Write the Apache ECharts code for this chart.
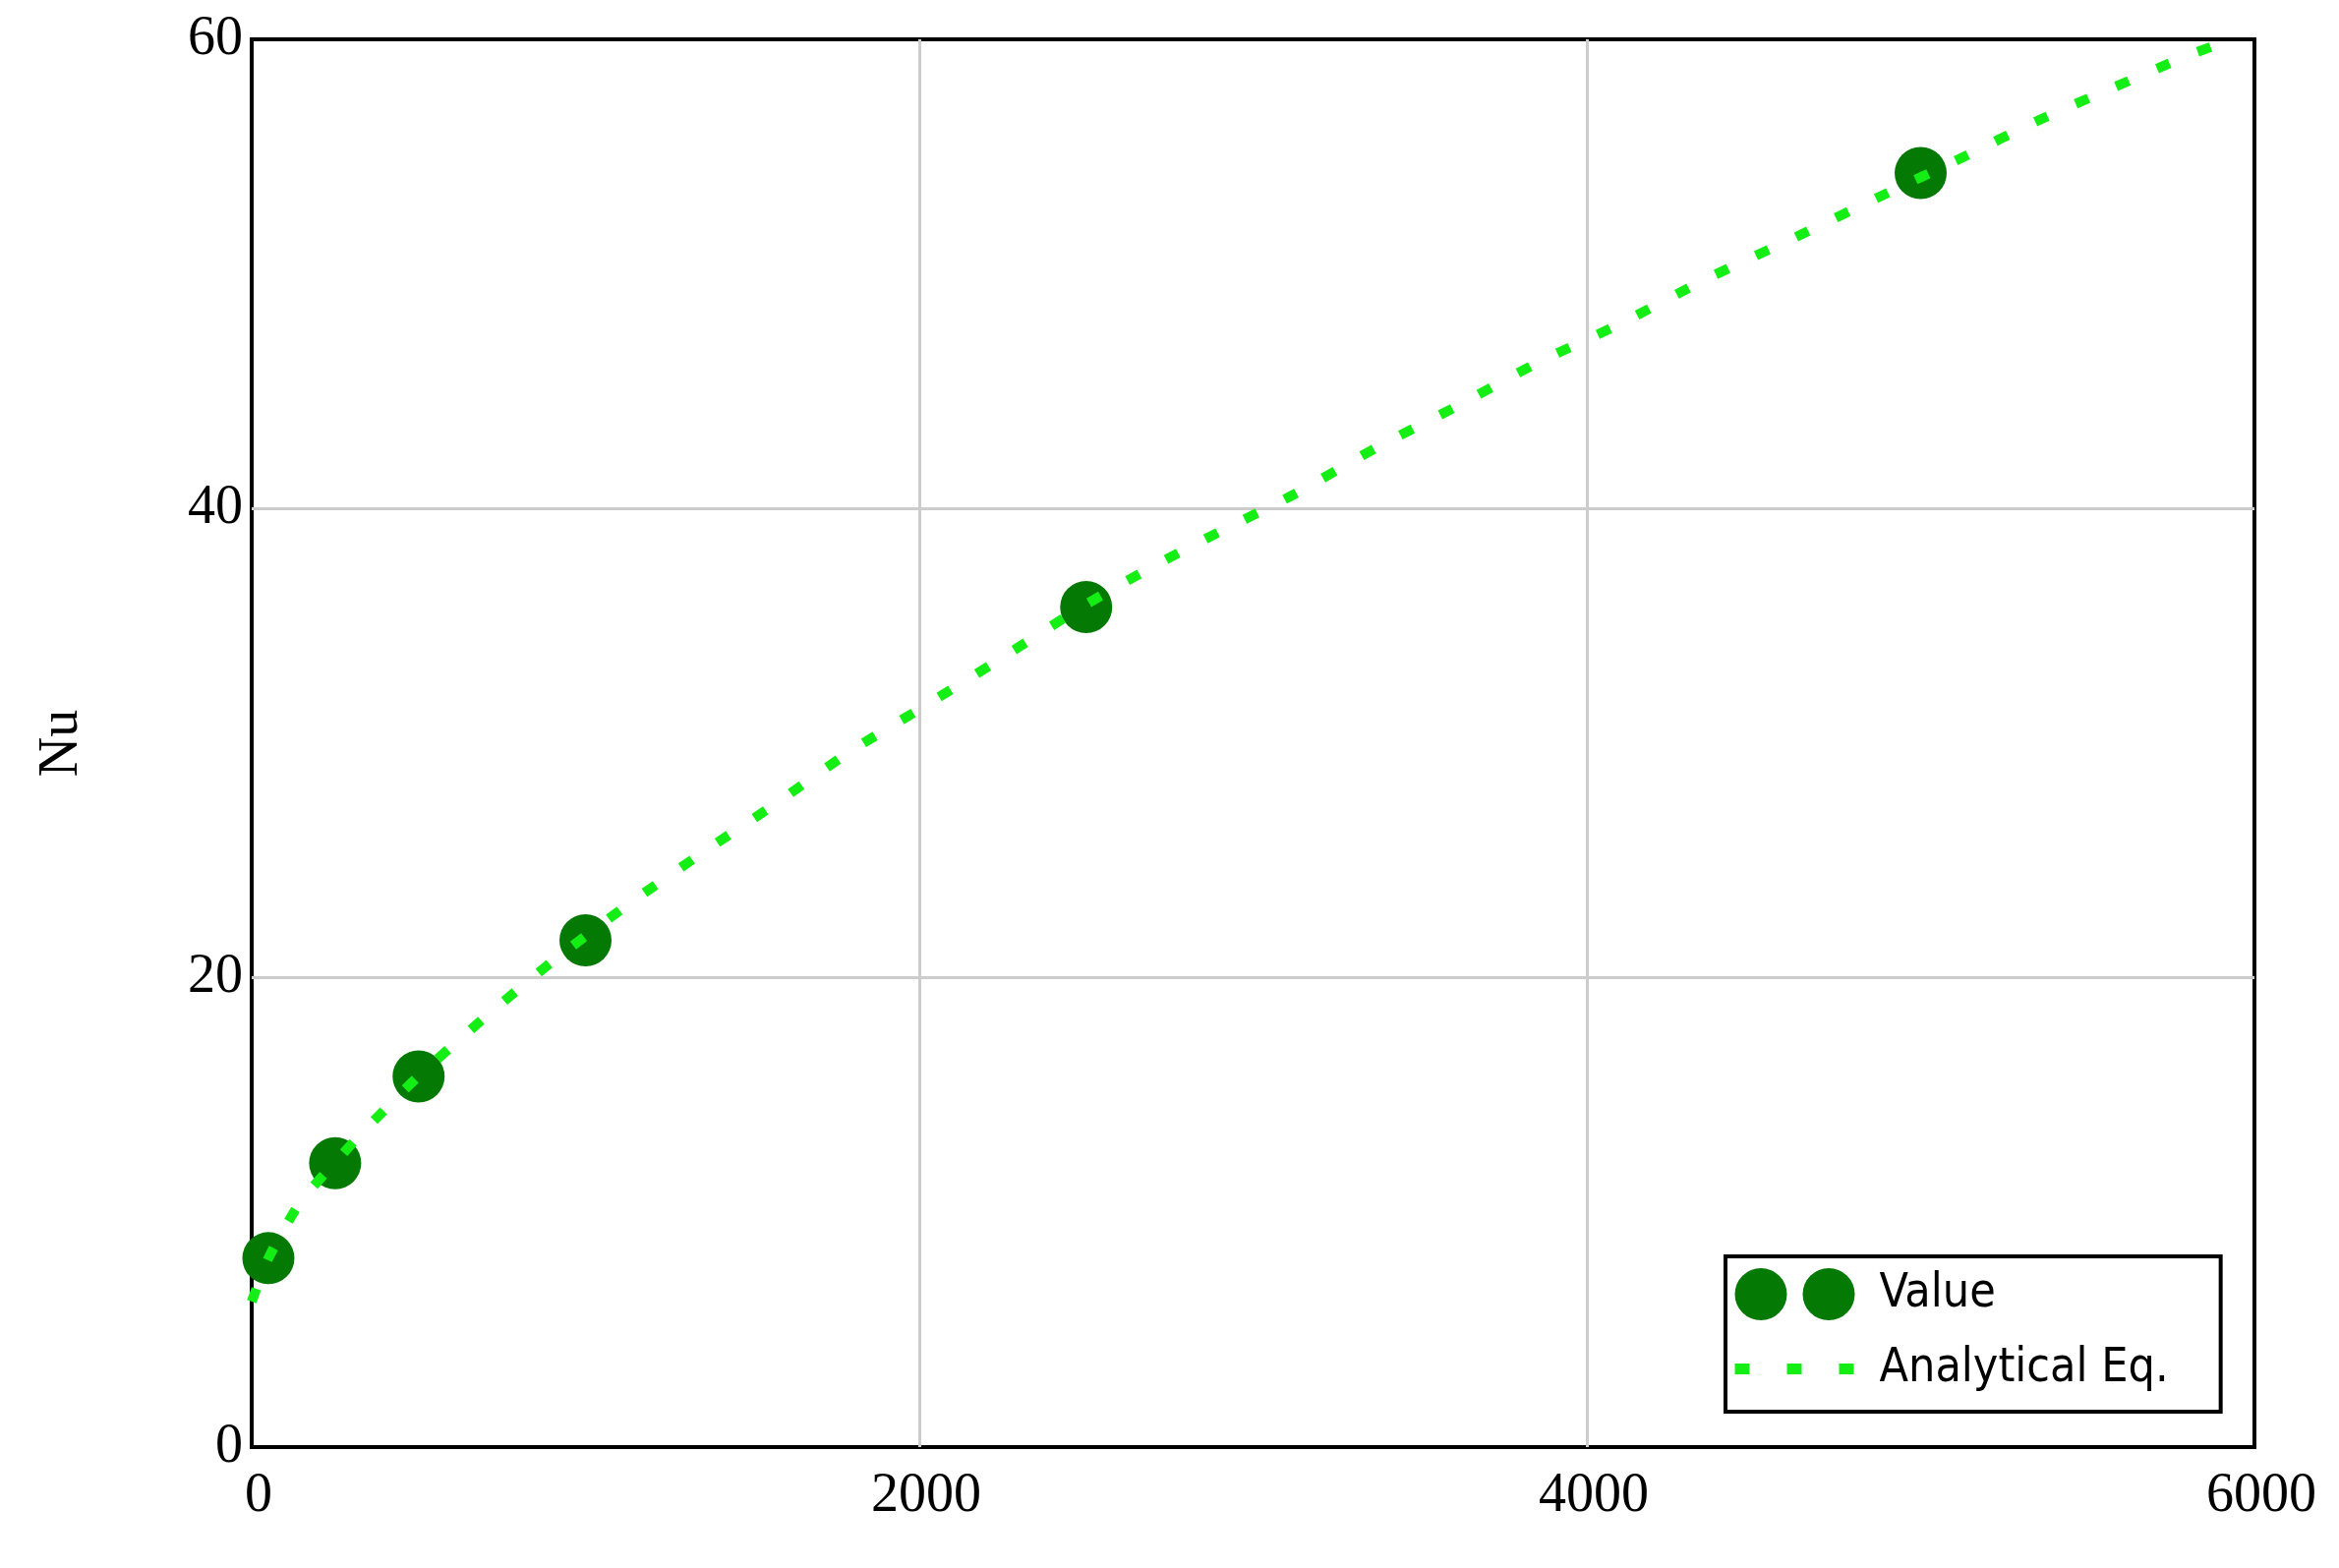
<!DOCTYPE html>
<html><head><meta charset="utf-8">
<script src="https://cdn.jsdelivr.net/npm/echarts@6/dist/echarts.min.js"></script>
<style>html,body{margin:0;padding:0;background:#fff}#c{width:2379px;height:1595px}</style>
</head><body><div id="c"></div>
<script>
// Measured points ("Value")
const valueX = [50, 250, 500, 1000, 2500, 5000];
const valueY = [8.05, 12.1, 15.8, 21.6, 35.8, 54.3];
// Analytical equation curve
const eqX = [0, 50, 144, 247, 345, 492, 689, 901, 1125, 1347, 1567, 1788, 2006, 2221, 2486, 2683, 2898, 3122, 3370, 3602, 3850, 4103, 4360, 4630, 4878, 5131, 5346, 5570, 5800, 5932];
const eqY = [6.2, 8.05, 10.4, 12.1, 13.6, 15.7, 18.2, 20.7, 23.1, 25.3, 27.4, 29.6, 31.5, 33.4, 35.8, 37.4, 39.0, 40.6, 42.6, 44.3, 46.2, 47.9, 49.8, 51.6, 53.3, 55.0, 56.5, 57.9, 59.3, 60.0];
// Axis ticks
const xTicks = [0, 2000, 4000, 6000];
const yTicks = [0, 20, 40, 60];
const yName = 'Nu';
const seriesNames = ['Value', 'Analytical Eq.'];

const serif = "'Liberation Serif', 'Times New Roman', serif";
const sans = "'DejaVu Sans Condensed', 'DejaVu Sans', sans-serif";
const dark = '#047a04';
const bright = '#14ee14';

const chart = echarts.init(document.getElementById('c'), null, {renderer: 'canvas'});
chart.setOption({
  animation: false,
  backgroundColor: '#fff',
  grid: {left: 256, right: 86, top: 40, bottom: 123, show: true, borderColor: '#000', borderWidth: 4, backgroundColor: 'transparent'},
  xAxis: {
    type: 'value', min: xTicks[0], max: xTicks[xTicks.length - 1], interval: xTicks[1] - xTicks[0],
    axisLine: {show: false}, axisTick: {show: false},
    axisLabel: {fontFamily: serif, fontSize: 56, color: '#000', margin: 22, padding: [0, 0, 0, 14], showMinLabel: true, showMaxLabel: true,
      formatter: v => String(v)},
    splitLine: {show: true, showMinLine: false, showMaxLine: false, lineStyle: {color: '#cccccc', width: 3}}
  },
  yAxis: {
    type: 'value', min: yTicks[0], max: yTicks[yTicks.length - 1], interval: yTicks[1] - yTicks[0],
    name: yName, nameLocation: 'middle', nameGap: 165, nameRotate: 90,
    nameTextStyle: {fontFamily: serif, fontSize: 56, color: '#000'},
    axisLine: {show: false}, axisTick: {show: false},
    axisLabel: {fontFamily: serif, fontSize: 56, color: '#000', margin: 9, padding: [16, 0, 0, 0],
      formatter: v => String(v)},
    splitLine: {show: true, showMinLine: false, showMaxLine: false, lineStyle: {color: '#cccccc', width: 3}}
  },
  legend: {
    orient: 'vertical', left: 1755, top: 1278,
    padding: [12, 53, 17, 4],
    borderColor: '#000', borderWidth: 4, backgroundColor: '#fff',
    itemWidth: 122, itemHeight: 53, itemGap: 23,
    selectedMode: false,
    textStyle: {fontFamily: sans, fontSize: 48, color: '#000', padding: [0, 0, 0, 20], lineHeight: 53},
    data: [
      {name: seriesNames[0], icon: 'path://M0,26.5A26.5,26.5,0,1,1,53,26.5A26.5,26.5,0,1,1,0,26.5Z M69,26.5A26.5,26.5,0,1,1,122,26.5A26.5,26.5,0,1,1,69,26.5Z', itemStyle: {color: dark}},
      {name: seriesNames[1], itemStyle: {opacity: 0}, lineStyle: {width: 11, type: [15, 38], color: bright}}
    ]
  },
  series: [
    {
      name: seriesNames[0], type: 'scatter', z: 2,
      symbol: 'circle', symbolSize: 53,
      itemStyle: {color: dark, opacity: 1},
      data: valueX.map((x, i) => [x, valueY[i]])
    },
    {
      name: seriesNames[1], type: 'line', z: 3,
      symbol: 'none', showSymbol: false, smooth: 0.25, clip: true,
      lineStyle: {color: bright, width: 10, type: [14, 31], cap: 'butt'},
      data: eqX.map((x, i) => [x, eqY[i]])
    }
  ]
});
</script>
</body></html>
